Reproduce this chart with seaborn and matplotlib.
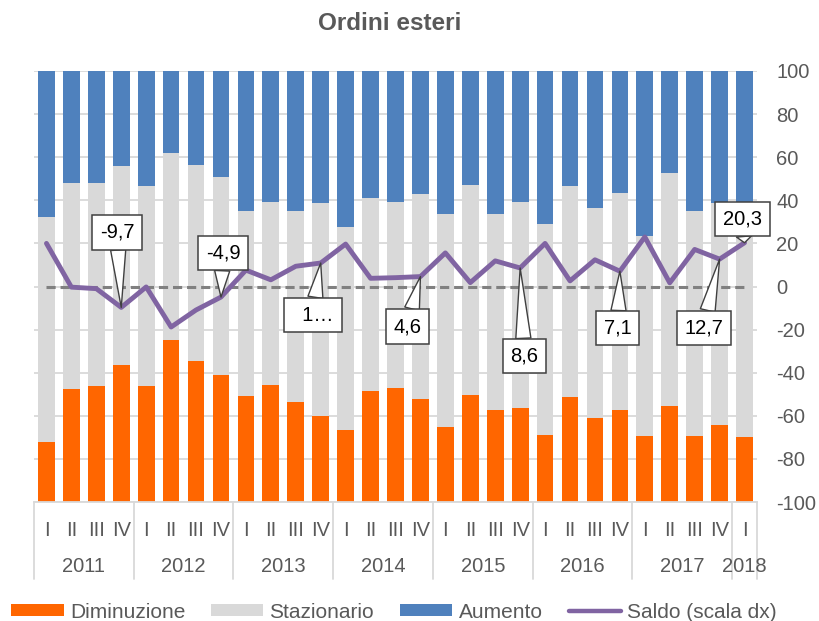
import numpy as np
import pandas as pd
import matplotlib
matplotlib.use("Agg")
import matplotlib.pyplot as plt
from matplotlib.patches import Patch
from matplotlib.lines import Line2D
import seaborn as sns

# Quarterly survey: foreign orders (percent of answers) and balance
anni = [2011] * 4 + [2012] * 4 + [2013] * 4 + [2014] * 4 + [2015] * 4 + [2016] * 4 + [2017] * 4 + [2018]
trimestri = ["I", "II", "III", "IV"] * 7 + ["I"]

diminuzione = [14.0, 26.2, 26.8, 31.8, 26.8, 37.7, 32.7, 29.5,
               24.7, 27.1, 23.2, 19.9, 16.7, 25.8, 26.5, 23.9,
               17.5, 24.8, 21.3, 21.8, 15.5, 24.3, 19.5, 21.3,
               15.3, 22.3, 15.3, 17.9, 15.0]
stazionario = [52.2, 47.9, 47.3, 46.1, 46.6, 43.3, 45.5, 46.0,
               42.8, 42.5, 44.3, 49.4, 47.0, 44.7, 43.0, 47.5,
               49.4, 48.8, 45.6, 47.8, 49.1, 49.0, 48.6, 50.4,
               46.5, 54.1, 52.2, 51.5, 49.7]
aumento = [33.8, 25.9, 25.9, 22.1, 26.6, 19.0, 21.8, 24.5,
           32.5, 30.4, 32.5, 30.7, 36.3, 29.5, 30.5, 28.6,
           33.1, 26.4, 33.1, 30.4, 35.4, 26.7, 31.9, 28.3,
           38.2, 23.6, 32.5, 30.6, 35.3]
saldo = [20.0, -0.3, -1.0, -9.7, -0.2, -18.8, -10.9, -4.9,
         7.6, 3.1, 9.4, 10.9, 19.7, 3.8, 4.1, 4.6,
         15.6, 1.8, 11.9, 8.6, 20.0, 2.6, 12.4, 7.1,
         23.0, 1.7, 17.2, 12.7, 20.3]

# Points carrying a callout, with the callout offset (pixels) from the point
callout_idx = [3, 7, 11, 15, 19, 23, 27, 28]
callout_off = [(-4, 75), (2, 44), (-8, -52), (-13, -50), (4, -88), (-2, -57), (-16, -69), (-2, 24)]

df = pd.DataFrame({
    "periodo": [f"{a}-{t}" for a, t in zip(anni, trimestri)],
    "diminuzione": diminuzione,
    "stazionario": stazionario,
    "aumento": aumento,
    "saldo": saldo,
})
df["cum_staz"] = df["diminuzione"] + df["stazionario"]
df["cum_aum"] = df["cum_staz"] + df["aumento"]
df["pos"] = np.arange(len(df))
df["zero"] = 0.0

ORANGE = "#FF6600"
GREY = "#D9D9D9"
BLUE = "#4F81BD"
PURPLE = "#8064A2"
TXT = "#595959"
GRID = "#D9D9D9"

sns.set_theme(style="white")
plt.rcParams["font.family"] = ["Liberation Sans", "DejaVu Sans"]

FS = 14.5

fig = plt.figure(figsize=(8.19, 6.21), dpi=100)
ax = fig.add_axes([34 / 819, 1 - 502 / 621, (757 - 34) / 819, 431 / 621])

# Stacked bars drawn as overlapping cumulative totals
order = list(df["periodo"])
for col, c in [("cum_aum", BLUE), ("cum_staz", GREY), ("diminuzione", ORANGE)]:
    sns.barplot(data=df, x="periodo", y=col, order=order, color=c, saturation=1,
                width=0.67, ax=ax, zorder=2, linewidth=0)

ax.set_ylim(0, 100)
ax.set_xlim(-0.5, len(df) - 0.5)
ax.set_yticks(np.arange(0, 101, 10))
ax.set_yticklabels([])
ax.yaxis.grid(True, color=GRID, linewidth=1.3)
ax.set_axisbelow(True)
ax.tick_params(axis="y", length=0)
ax.set_xlabel("")
ax.set_ylabel("")
for s in ["left", "right", "top"]:
    ax.spines[s].set_visible(False)
ax.spines["bottom"].set_color(GRID)
ax.spines["bottom"].set_linewidth(1.3)

# Quarter labels and year labels
ax.set_xticks(df["pos"])
ax.set_xticklabels(trimestri, color=TXT, fontsize=FS)
ax.tick_params(axis="x", length=0, pad=14)
xtr = ax.get_xaxis_transform()
for a in sorted(set(anni)):
    p = df.loc[np.array(anni) == a, "pos"]
    ax.text(p.mean(), -0.1495, str(a), transform=xtr, ha="center", va="center",
            color=TXT, fontsize=FS)
bounds = [-0.5] + [i - 0.5 for i in range(1, len(anni)) if anni[i] != anni[i - 1]] + [len(anni) - 0.5]
for b in bounds:
    ax.plot([b, b], [0, -0.1775], transform=xtr, color=GRID, lw=1.3, clip_on=False, zorder=1)

# Balance on the right-hand scale
ax2 = ax.twinx()
ax2.set_ylim(-100, 100)
ax2.set_yticks(np.arange(-100, 101, 20))
ax2.set_yticklabels([str(v) for v in range(-100, 101, 20)], color=TXT, fontsize=FS)
ax2.tick_params(axis="y", length=0, pad=14)
for s in ax2.spines.values():
    s.set_visible(False)
ax2.grid(False)

sns.lineplot(data=df, x="pos", y="zero", ax=ax2, color="#808080", linewidth=2.2,
             dashes=False, zorder=3).lines[-1].set_dashes((3, 1.6))
sns.lineplot(data=df, x="pos", y="saldo", ax=ax2, color=PURPLE, linewidth=3.5, zorder=4)
ax2.set_xlim(-0.5, len(df) - 0.5)
ax2.set_xlabel("")
ax2.set_ylabel("")

for i, (dx, dy) in zip(callout_idx, callout_off):
    txt = f"{saldo[i]:.1f}".replace(".", ",")
    if i == 11:
        txt = "  " + txt[0] + "…"
    ax2.annotate(txt, xy=(df["pos"][i], saldo[i]), xytext=(dx, dy),
                 textcoords="offset pixels", ha="center", va="center",
                 fontsize=FS, color="black", zorder=6,
                 bbox=dict(boxstyle="square,pad=0.38", fc="white", ec="#404040", lw=1.1),
                 arrowprops=dict(arrowstyle="wedge,tail_width=0.75,shrink_factor=0.5",
                                 fc="white", ec="#404040", lw=1.0,
                                 shrinkA=0, shrinkB=0))

fig.text(390 / 819, 1 - 24 / 621, "Ordini esteri", ha="center", va="center",
         fontsize=17.5, fontweight="bold", color=TXT)

handles = [Patch(facecolor=ORANGE, edgecolor="none"),
           Patch(facecolor=GREY, edgecolor="none"),
           Patch(facecolor=BLUE, edgecolor="none"),
           Line2D([0], [0], color=PURPLE, lw=3.2)]
labels = ["Diminuzione", "Stazionario", "Aumento", "Saldo (scala dx)"]
leg = fig.legend(handles, labels, loc="center", bbox_to_anchor=(394 / 819, 1 - 612 / 621),
                 ncol=4, frameon=False, fontsize=15, handlelength=2.5, handleheight=0.5,
                 handletextpad=0.3, columnspacing=1.25, borderaxespad=0, borderpad=0)
for t in leg.get_texts():
    t.set_color(TXT)

fig.savefig("out.png", dpi=100)
